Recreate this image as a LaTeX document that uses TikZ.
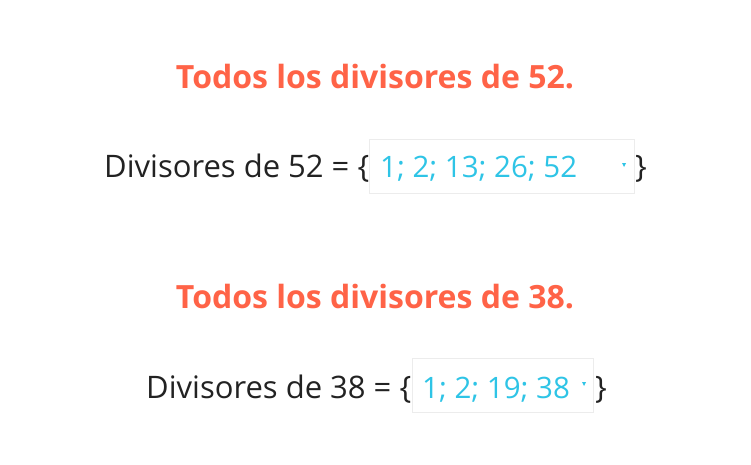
\documentclass[tikz,border=0pt]{standalone}
\usepackage{fontspec}
\setmainfont{Open Sans}
\definecolor{titlec}{HTML}{FF6347}
\definecolor{darkc}{HTML}{222222}
\definecolor{cyanc}{HTML}{2EC4E6}
\definecolor{boxc}{HTML}{ECECEC}
\tikzset{
  titletext/.style={anchor=base, text=titlec, font=\fontsize{32}{38}\selectfont\bfseries, inner sep=0pt},
  eqtext/.style={anchor=base west, text=darkc, font=\fontsize{31}{36}\selectfont, inner sep=0pt},
  anstext/.style={anchor=base west, text=cyanc, font=\fontsize{29.5}{34}\selectfont, inner sep=0pt},
  ansbox/.style={draw=boxc, fill=white, line width=0.8pt},
  caret/.style={fill=cyanc, draw=none}
}
\begin{document}
\begin{tikzpicture}[x=1pt,y=-1pt]
\useasboundingbox[fill=white] (0,0) rectangle (751,465);
% first block
\node[titletext] (t1) at (375,89) {Todos los divisores de 52.};
\node[eqtext] (e1) at (104,177) {Divisores de 52 = \{};
\draw[ansbox] (369,139) rectangle (634,193);
\node[anstext] (a1) at (380,177) {1; 2; 13; 26; 52};
\fill[caret] (622,163) -- (626,163) -- (624,167) -- cycle;
\node[eqtext] (c1) at (635,177) {\}};
% second block
\node[titletext] (t2) at (375,308) {Todos los divisores de 38.};
\node[eqtext] (e2) at (146,398) {Divisores de 38 = \{};
\draw[ansbox] (412,358) rectangle (593,412);
\node[anstext] (a2) at (422,398) {1; 2; 19; 38};
\fill[caret] (582,382) -- (586,382) -- (584,386) -- cycle;
\node[eqtext] (c2) at (595,398) {\}};
\end{tikzpicture}
\end{document}
